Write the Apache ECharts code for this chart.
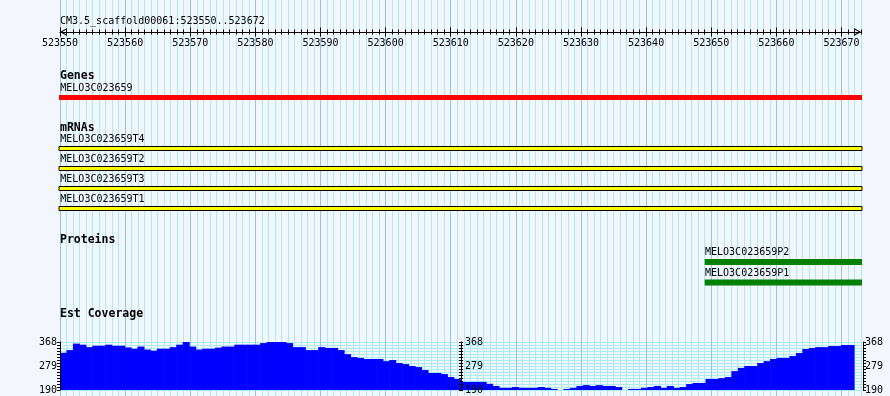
<!DOCTYPE html>
<html><head><meta charset="utf-8">
<script src="https://cdn.jsdelivr.net/npm/echarts@6.0.0/dist/echarts.min.js"></script>
<style>html,body{margin:0;padding:0;background:#F3F6FC;} #chart{width:890px;height:396px;}</style>
</head><body><div id="chart"></div>
<script>
// ---------------- data ----------------
const viewStart = 523550;
const viewEnd = 523673;
const titleText = 'CM3.5_scaffold00061:523550..523672';
const rulerLabels = [523550, 523560, 523570, 523580, 523590, 523600, 523610, 523620, 523630, 523640, 523650, 523660, 523670];
const sectionTitles = ['Genes', 'mRNAs', 'Proteins', 'Est Coverage'];
const geneNames = ['MELO3C023659'];
const geneStarts = [523550];
const geneEnds = [523673];
const mrnaNames = ['MELO3C023659T4', 'MELO3C023659T2', 'MELO3C023659T3', 'MELO3C023659T1'];
const mrnaStarts = [523550, 523550, 523550, 523550];
const mrnaEnds = [523673, 523673, 523673, 523673];
const proteinNames = ['MELO3C023659P2', 'MELO3C023659P1'];
const proteinStarts = [523649, 523649];
const proteinEnds = [523673, 523673];
const coverageFirst = 523550;
const coverageLast = 523672;
const coverageValues = [
  328, 338, 362, 358, 349, 354, 354, 358, 354, 354,
  348, 343, 351, 340, 336, 343, 343, 349, 358, 368,
  351, 340, 343, 343, 347, 351, 351, 358, 358, 358,
  358, 364, 368, 368, 368, 364, 349, 349, 338, 338,
  349, 346, 346, 338, 323, 312, 309, 305, 305, 305,
  297, 301, 290, 286, 279, 275, 264, 253, 253, 249,
  238, 231, 220, 220, 220, 220, 213, 205, 198, 198,
  201, 198, 198, 198, 201, 198, 194, 190, 194, 198,
  205, 208, 205, 208, 205, 205, 201, 190, 194, 194,
  198, 201, 205, 198, 205, 198, 201, 212, 216, 216,
  231, 231, 234, 238, 260, 272, 279, 279, 290, 297,
  305, 309, 309, 316, 327, 342, 346, 349, 349, 353,
  353, 357, 357
];
const coverageMin = 190;
const coverageMax = 368;
const coverageLabels = [190, 279, 368];

// ---------------- styles / layout ----------------
const MONO = '"DejaVu Sans Mono", "Liberation Mono", monospace';
const FONT10 = '10px ' + MONO;
const BOLD = 'bold 11.5px ' + MONO;
const MINOR = '#A9ECF2', MAJOR = '#8DC8EC', BG = '#F3F6FC';
const PLOT_L = 60, PLOT_W = 801;
const ARROW = 'path://M4,0 L8,7 L6.8,7 L4,2.1 L1.2,7 L0,7 Z';
const BLACK = {color: '#000', width: 1};

const coveragePositions = [];
for (let p = coverageFirst; p <= coverageLast; p++) coveragePositions.push(String(p));

function grid(top, height, width) {
  return {left: PLOT_L, top: top, height: height, width: width || PLOT_W, containLabel: false, outerBoundsMode: 'none'};
}
function posAxis(gridIndex, extra) {
  return Object.assign({
    gridIndex: gridIndex, type: 'value', min: viewStart, max: viewEnd,
    axisLine: {show: false, onZero: false}, axisTick: {show: false},
    axisLabel: {show: false}, splitLine: {show: false}
  }, extra || {});
}
function covAxis(extra) {
  return Object.assign({
    gridIndex: 5, type: 'value', min: coverageMin, max: coverageMax,
    interval: (coverageMax - coverageMin) / 16,
    axisLine: {show: false, onZero: false}, axisTick: {show: false},
    axisLabel: {show: false}, splitLine: {show: false}
  }, extra || {});
}
const covFormatter = function (v) {
  return coverageLabels.some(function (t) { return Math.abs(t - v) < 0.01; }) ? String(Math.round(v)) : '';
};
const covLabel = function (margin, inside) {
  return {show: true, inside: !!inside, margin: margin, color: '#000', fontFamily: MONO, fontSize: 10,
          showMinLabel: true, showMaxLabel: true, formatter: covFormatter};
};

function trackRender(names, opt) {
  return function (params, api) {
    const row = api.value(2);
    const p0 = api.coord([api.value(0), row]);
    const p1 = api.coord([api.value(1), row]);
    const band = api.size([0, 1])[1];
    const top = p0[1] - band / 2;
    const cs = params.coordSys;
    const clipped = p0[0] <= cs.x + 0.01;
    const lx = Math.max(p0[0], cs.x);
    const x0 = clipped ? lx - 1 : lx;
    const x1 = Math.min(p1[0], cs.x + cs.width) + 1;
    return {
      type: 'group',
      children: [
        {type: 'text', style: {text: names[params.dataIndex], x: lx + 0.3, y: top + 8.5,
          font: FONT10, fill: '#000', verticalAlign: 'middle', textVerticalAlign: 'middle'}},
        {type: 'rect', shape: {x: x0, y: top + opt.barTop, width: x1 - x0, height: opt.barH},
          style: {fill: opt.fill, stroke: opt.stroke || null, lineWidth: opt.stroke ? 1 : 0}}
      ]
    };
  };
}

const option = {
  backgroundColor: BG,
  animation: false,
  grid: [
    grid(0, 396),          // 0 vertical lines
    grid(32, 1),           // 1 ruler
    grid(80, 20),          // 2 genes
    grid(131, 80),         // 3 mRNAs
    grid(244, 41),         // 4 proteins
    grid(342, 48, 802),    // 5 coverage frame
    grid(342, 48, 794)     // 6 coverage bars
  ],
  xAxis: [
    posAxis(0, {interval: 1, splitLine: {show: true, lineStyle: {color: MINOR, width: 1}}}),
    posAxis(0, {interval: 10, splitLine: {show: true, showMaxLine: false, lineStyle: {color: MAJOR, width: 1}}}),
    posAxis(1, {position: 'top', interval: 1,
      axisLine: {show: true, onZero: false, symbol: [ARROW, ARROW], symbolSize: [8, 7], symbolOffset: [3.5, -3.5], lineStyle: BLACK},
      axisTick: {show: true, inside: false, length: 2.5, lineStyle: BLACK}}),
    posAxis(1, {position: 'top', interval: 1, axisTick: {show: true, inside: true, length: 2.5, lineStyle: BLACK}}),
    posAxis(1, {position: 'top', interval: 10, axisTick: {show: true, inside: false, length: 4.5, customValues: rulerLabels, lineStyle: BLACK}}),
    posAxis(1, {position: 'top', interval: 10,
      axisTick: {show: true, inside: true, length: 4.5, customValues: rulerLabels, lineStyle: BLACK},
      axisLabel: {show: true, inside: true, margin: 6, customValues: rulerLabels, color: '#000', fontFamily: MONO, fontSize: 10,
        showMinLabel: true, showMaxLabel: true,
        formatter: function (v) { return rulerLabels.indexOf(Math.round(v)) >= 0 && Math.abs(v - Math.round(v)) < 1e-6 ? String(Math.round(v)) : ''; }}}),
    posAxis(2), posAxis(3), posAxis(4),
    {gridIndex: 5, type: 'value', min: 0, max: 1, show: false},
    {gridIndex: 6, type: 'category', data: coveragePositions, boundaryGap: true, show: false}
  ],
  yAxis: [
    {gridIndex: 0, type: 'value', min: 0, max: 1, show: false},
    {gridIndex: 1, type: 'value', min: 0, max: 1, show: false},
    {gridIndex: 2, type: 'category', data: geneNames, inverse: true, show: false},
    {gridIndex: 3, type: 'category', data: mrnaNames, inverse: true, show: false},
    {gridIndex: 4, type: 'category', data: proteinNames, inverse: true, show: false},
    covAxis({splitLine: {show: true, lineStyle: {color: MINOR, width: 1}}}),
    covAxis({position: 'left', z: 5, axisLine: {show: true, onZero: false, lineStyle: BLACK},
      axisTick: {show: true, inside: false, length: 3, lineStyle: BLACK}, axisLabel: covLabel(3, false)}),
    covAxis({position: 'left', offset: -401, z: 5, axisLine: {show: true, onZero: false, lineStyle: BLACK},
      axisTick: {show: true, inside: false, length: 2, lineStyle: BLACK}}),
    covAxis({position: 'left', offset: -401, z: 5,
      axisTick: {show: true, inside: true, length: 2, lineStyle: BLACK}, axisLabel: covLabel(4, true)}),
    covAxis({position: 'right', offset: 1, z: 5, axisLine: {show: true, onZero: false, lineStyle: BLACK},
      axisTick: {show: true, inside: false, length: 3, lineStyle: BLACK}, axisLabel: covLabel(2, false)}),
    {gridIndex: 6, type: 'value', min: coverageMin, max: coverageMax, show: false}
  ],
  graphic: [
    {type: 'text', x: 60, y: 21, z: 10, style: {text: titleText, font: FONT10, fill: '#000', verticalAlign: 'middle', textVerticalAlign: 'middle'}},
    {type: 'text', x: 60, y: 76, z: 10, style: {text: sectionTitles[0], font: BOLD, fill: '#000', verticalAlign: 'middle', textVerticalAlign: 'middle'}},
    {type: 'text', x: 60, y: 128, z: 10, style: {text: sectionTitles[1], font: BOLD, fill: '#000', verticalAlign: 'middle', textVerticalAlign: 'middle'}},
    {type: 'text', x: 60, y: 240, z: 10, style: {text: sectionTitles[2], font: BOLD, fill: '#000', verticalAlign: 'middle', textVerticalAlign: 'middle'}},
    {type: 'text', x: 60, y: 314, z: 10, style: {text: sectionTitles[3], font: BOLD, fill: '#000', verticalAlign: 'middle', textVerticalAlign: 'middle'}}
  ],
  series: [
    {type: 'custom', name: 'Genes', xAxisIndex: 6, yAxisIndex: 2, silent: true, clip: false,
      encode: {x: [0, 1], y: 2},
      data: geneNames.map(function (n, i) { return [geneStarts[i], geneEnds[i], i]; }),
      renderItem: trackRender(geneNames, {barTop: 15, barH: 5, fill: '#FF0000'})},
    {type: 'custom', name: 'mRNAs', xAxisIndex: 7, yAxisIndex: 3, silent: true, clip: false,
      encode: {x: [0, 1], y: 2},
      data: mrnaNames.map(function (n, i) { return [mrnaStarts[i], mrnaEnds[i], i]; }),
      renderItem: trackRender(mrnaNames, {barTop: 15.5, barH: 4, fill: '#FFFF00', stroke: '#000'})},
    {type: 'custom', name: 'Proteins', xAxisIndex: 8, yAxisIndex: 4, silent: true, clip: false,
      encode: {x: [0, 1], y: 2},
      data: proteinNames.map(function (n, i) { return [proteinStarts[i], proteinEnds[i], i]; }),
      renderItem: trackRender(proteinNames, {barTop: 15, barH: 6, fill: '#008000'})},
    {type: 'custom', name: 'Est Coverage', xAxisIndex: 10, yAxisIndex: 10, silent: true,
      encode: {x: 0, y: 1},
      data: coverageValues.map(function (v, i) { return [i, v]; }),
      renderItem: function (params, api) {
        const c = api.coord([api.value(0), api.value(1)]);
        const b = api.coord([api.value(0), coverageMin]);
        const w = api.size([1, 0])[0];
        return {type: 'rect', shape: {x: c[0] - w / 2, y: c[1], width: w + 0.6, height: b[1] - c[1]},
          style: {fill: '#0000FF'}};
      }}
  ]
};

const chart = echarts.init(document.getElementById('chart'), null, {renderer: 'canvas'});
chart.setOption(option);
</script>
</body></html>
